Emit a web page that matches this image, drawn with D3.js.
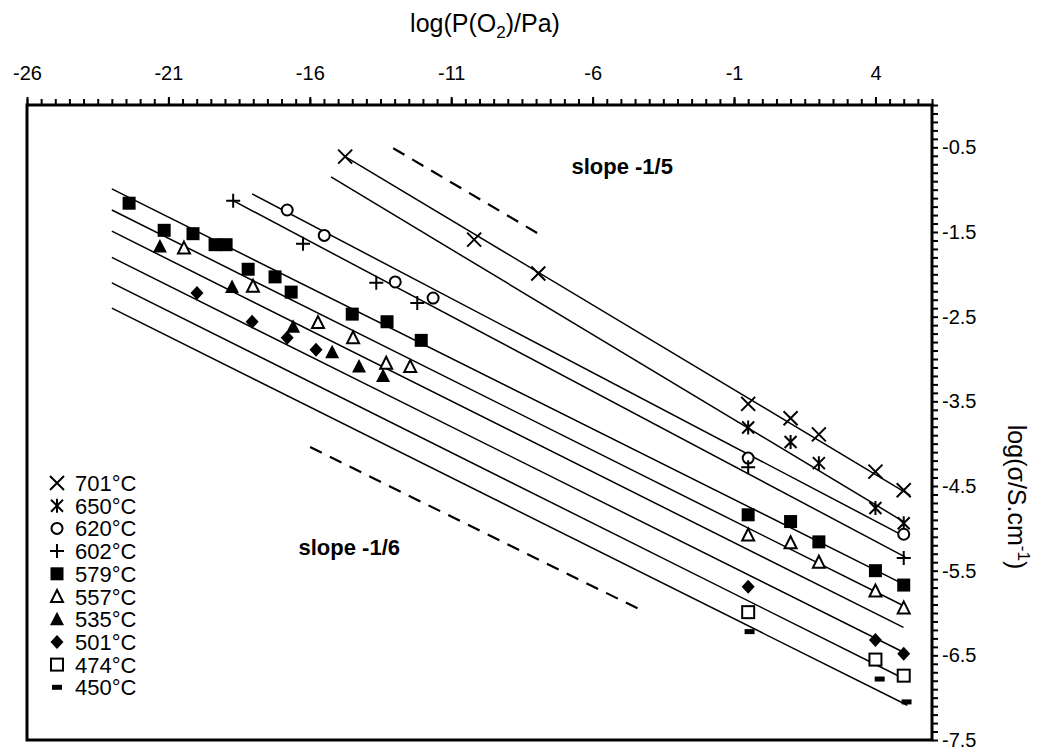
<!DOCTYPE html>
<html>
<head>
<meta charset="utf-8">
<script src="https://cdn.jsdelivr.net/npm/d3@7"></script>
<style>
  body { margin: 0; background: #fff; }
  svg text { font-family: "Liberation Sans", Arial, Helvetica, sans-serif; fill: #000; }
</style>
</head>
<body>
<div id="chart"></div>
<script>
// temperatures (legend order)
var temps = ['701°C', '650°C', '620°C', '602°C', '579°C', '557°C', '535°C', '501°C', '474°C', '450°C'];

// measured points [log(pO2/Pa), log(sigma)]
var pts701 = [[-14.75,-0.61],[-10.19,-1.59],[-7.92,-1.99],[-0.5,-3.53],[1,-3.70],[2,-3.89],[4,-4.33],[5,-4.55]];
var pts650 = [[-0.5,-3.81],[1,-3.98],[2,-4.23],[4,-4.76],[5,-4.94]];
var pts620 = [[-16.80,-1.24],[-15.49,-1.54],[-12.98,-2.09],[-11.64,-2.28],[-0.5,-4.17],[5,-5.07]];
var pts602 = [[-18.71,-1.13],[-16.24,-1.64],[-13.65,-2.10],[-12.20,-2.34],[-0.5,-4.28],[5,-5.35]];
var pts579 = [[-22.39,-1.16],[-21.15,-1.48],[-20.13,-1.52],[-19.35,-1.65],[-18.96,-1.65],[-18.18,-1.94],[-17.23,-2.03],[-16.66,-2.21],[-14.50,-2.47],[-13.27,-2.56],[-12.06,-2.78],[-0.5,-4.84],[1,-4.92],[2,-5.16],[4,-5.50],[5,-5.67]];
var pts557 = [[-20.45,-1.69],[-18.01,-2.14],[-15.71,-2.57],[-14.47,-2.75],[-13.30,-3.05],[-12.45,-3.09],[-0.5,-5.08],[1,-5.17],[2,-5.40],[4,-5.74],[5,-5.94]];
var pts535 = [[-21.30,-1.67],[-18.75,-2.15],[-16.59,-2.62],[-15.21,-2.92],[-14.26,-3.09],[-13.41,-3.20]];
var pts501 = [[-19.99,-2.22],[-18.04,-2.56],[-16.80,-2.75],[-15.78,-2.89],[-0.5,-5.69],[4,-6.32],[5,-6.48]];
var pts474 = [[-0.5,-5.99],[4,-6.55],[5,-6.74]];
var pts450 = [[-0.45,-6.22],[4.15,-6.78],[5.1,-7.05]];

// fitted lines [x1, y1, x2, y2]
var fit701 = [-14.75,-0.61, 5.23,-4.61];
var fit650 = [-15.25,-0.85, 4.99,-4.92];
var fit620 = [-18.04,-1.05, 5.06,-5.10];
var fit602 = [-18.71,-1.13, 5.06,-5.34];
var fit579 = [-23,-0.99, 5.06,-5.67];
var fit557 = [-23,-1.24, 5.03,-5.92];
var fit535 = [-23,-1.49, 4.99,-6.17];
var fit501 = [-23,-1.80, 5.03,-6.47];
var fit474 = [-23,-2.10, 5.03,-6.78];
var fit450 = [-23,-2.40, 5.13,-7.09];

// dashed guide slopes
var guide15 = [[-13.05,-0.51],[-7.92,-1.52]];
var guide16 = [[-15.99,-4.04],[-4.14,-5.99]];

var xTicks = [-26, -21, -16, -11, -6, -1, 4];
var yTicks = [-0.5, -1.5, -2.5, -3.5, -4.5, -5.5, -6.5, -7.5];

var allPts = [pts701, pts650, pts620, pts602, pts579, pts557, pts535, pts501, pts474, pts450];
var allFits = [fit701, fit650, fit620, fit602, fit579, fit557, fit535, fit501, fit474, fit450];
var markers = ['x', 'star', 'circle', 'plus', 'square', 'triOpen', 'tri', 'diamond', 'squareOpen', 'dash'];

var W = 1038, H = 752;
var svg = d3.select('#chart').append('svg').attr('width', W).attr('height', H);
svg.append('rect').attr('width', W).attr('height', H).attr('fill', '#fff');

var x = d3.scaleLinear().domain([-26, 6]).range([27, 932]);
var y = d3.scaleLinear().domain([-7.5, 0]).range([740, 105]);

// marker drawing
function drawMarker(g, type) {
    var s = 7;
    if (type == 'x') {
        g.append('path').attr('d', `M${-s},${-s}L${s},${s}M${-s},${s}L${s},${-s}`).attr('stroke', '#000').attr('stroke-width', 2).attr('fill', 'none');
    } else if (type == 'star') {
        g.append('path').attr('d', `M-6,-6L6,6M-6,6L6,-6M0,-7L0,7`).attr('stroke', '#000').attr('stroke-width', 2).attr('fill', 'none');
    } else if (type == 'circle') {
        g.append('circle').attr('r', 5.5).attr('stroke', '#000').attr('stroke-width', 2).attr('fill', '#fff');
    } else if (type == 'plus') {
        g.append('path').attr('d', `M${-s},0L${s},0M0,${-s}L0,${s}`).attr('stroke', '#000').attr('stroke-width', 2).attr('fill', 'none');
    } else if (type == 'square') {
        g.append('rect').attr('x', -6.5).attr('y', -6.5).attr('width', 13).attr('height', 13).attr('fill', '#000');
    } else if (type == 'squareOpen') {
        g.append('rect').attr('x', -6).attr('y', -6).attr('width', 12).attr('height', 12).attr('fill', '#fff').attr('stroke', '#000').attr('stroke-width', 2);
    } else if (type == 'triOpen') {
        g.append('path').attr('d', 'M0,-6.5L6,5.5L-6,5.5Z').attr('fill', '#fff').attr('stroke', '#000').attr('stroke-width', 2);
    } else if (type == 'tri') {
        g.append('path').attr('d', 'M0,-7.5L7,6L-7,6Z').attr('fill', '#000');
    } else if (type == 'diamond') {
        g.append('path').attr('d', 'M0,-7L6.5,0L0,7L-6.5,0Z').attr('fill', '#000');
    } else if (type == 'dash') {
        g.append('rect').attr('x', -5).attr('y', -2.5).attr('width', 10).attr('height', 5).attr('fill', '#000');
    }
}

// fitted lines
svg.append('g').selectAll('line').data(allFits).enter().append('line')
    .attr('x1', d => x(d[0])).attr('y1', d => y(d[1]))
    .attr('x2', d => x(d[2])).attr('y2', d => y(d[3]))
    .attr('stroke', '#000').attr('stroke-width', 1.5);

// guides
var lineGen = d3.line().x(d => x(d[0])).y(d => y(d[1]));
[guide15, guide16].forEach(function (gd) {
    svg.append('path').attr('d', lineGen(gd))
        .attr('stroke', '#000').attr('stroke-width', 2.2).attr('fill', 'none')
        .attr('stroke-dasharray', '13,9');
});

// points
for (var i = 0; i < allPts.length; i++) {
    var type = markers[i];
    svg.append('g').selectAll('g').data(allPts[i]).enter().append('g')
        .attr('transform', d => `translate(${x(d[0])},${y(d[1])})`)
        .each(function () { drawMarker(d3.select(this), type); });
}

// annotations
svg.append('text').attr('x', x(-6.75)).attr('y', y(-0.82)).attr('font-size', 22).attr('font-weight', 'bold').text('slope -1/5');
svg.append('text').attr('x', x(-16.4)).attr('y', y(-5.32)).attr('font-size', 22).attr('font-weight', 'bold').text('slope -1/6');

// axes
var topMinor = d3.axisTop(x).tickValues(d3.range(-26, 6.01, 0.5)).tickSize(6).tickFormat('');
var topMajor = d3.axisTop(x).tickValues(xTicks).tickSize(8).tickPadding(17).tickFormat(d => String(d));
var rightMinor = d3.axisRight(y).tickValues(d3.range(-75, 1, 1).map(v => v / 10)).tickSize(6).tickFormat('');
var rightMajor = d3.axisRight(y).tickValues(yTicks).tickSize(0).tickPadding(10).tickFormat(d => d.toFixed(1));

[topMinor, topMajor].forEach(function (ax) {
    var g = svg.append('g').attr('transform', `translate(0,${y(0)})`).call(ax);
    g.select('.domain').remove();
    g.selectAll('line').attr('stroke-width', 2);
});
[rightMinor, rightMajor].forEach(function (ax) {
    var g = svg.append('g').attr('transform', `translate(${x(6)},0)`).call(ax);
    g.select('.domain').remove();
    g.selectAll('line').attr('stroke-width', 2);
});
svg.selectAll('.tick text').attr('font-size', 20).attr('font-family', '"Liberation Sans", Arial, sans-serif').attr('fill', '#000');

// frame
svg.append('rect').attr('x', x(-26)).attr('y', y(0)).attr('width', x(6) - x(-26)).attr('height', y(-7.5) - y(0))
    .attr('fill', 'none').attr('stroke', '#000').attr('stroke-width', 3);

// axis titles
var xt = svg.append('text').attr('x', 485).attr('y', 32).attr('text-anchor', 'middle').attr('font-size', 25);
xt.append('tspan').text('log(P(O');
xt.append('tspan').attr('font-size', 17).attr('dy', 6).text('2');
xt.append('tspan').attr('dy', -6).text(')/Pa)');

var yt = svg.append('text').attr('transform', 'translate(1008,497) rotate(90)').attr('text-anchor', 'middle').attr('font-size', 25);
yt.append('tspan').text('log(σ/S.cm');
yt.append('tspan').attr('font-size', 17).attr('dy', -10).text('-1');
yt.append('tspan').attr('dy', 10).text(')');

// legend
var legend = svg.append('g').attr('transform', 'translate(57,483)');
temps.forEach(function (t, i) {
    var row = legend.append('g').attr('transform', `translate(0,${i * 22.7})`);
    drawMarker(row, markers[i]);
    row.append('text').attr('x', 18).attr('y', 8).attr('font-size', 22).text(t);
});
</script>
</body>
</html>
